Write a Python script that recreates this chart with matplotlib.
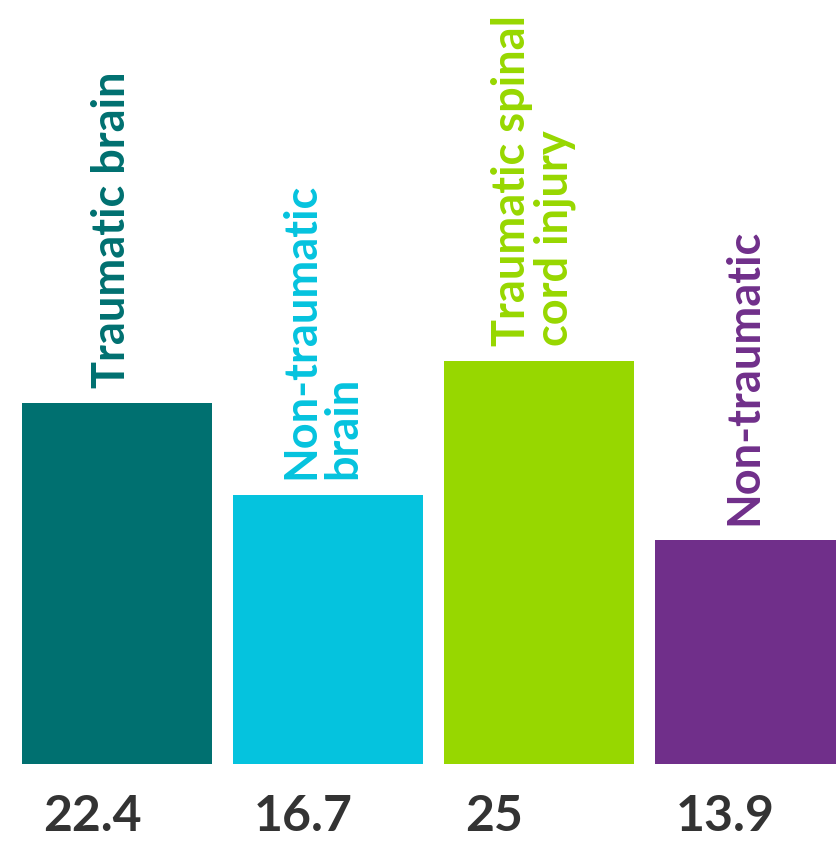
import matplotlib
matplotlib.use("Agg")
import matplotlib.pyplot as plt
import numpy as np

# Chart data
categories = ["Traumatic brain", "Non-traumatic\nbrain",
              "Traumatic spinal\ncord injury", "Non-traumatic"]
values = [22.4, 16.7, 25, 13.9]
value_labels = ["22.4", "16.7", "25", "13.9"]
colors = ["#007070", "#05C3DE", "#97D700", "#702F8A"]

plt.rcParams['font.family'] = ['Lato', 'DejaVu Sans']

fig = plt.figure(figsize=(8.36, 8.42), dpi=100)
ax = fig.add_axes([0, 0, 1, 1])

x = np.arange(len(values))
width = 0.9
ax.bar(x, values, width=width, color=colors)

# Category labels, rotated above each bar
for xi, v, cat, c in zip(x, values, categories, colors):
    ax.text(xi - 0.025, v + 0.95, cat, rotation=90, ha='center', va='bottom',
            multialignment='left', linespacing=1.0,
            fontsize=32.5, fontweight='bold', color=c)

# Values below the bars
for xi, lab in zip(x, value_labels):
    ax.text(xi - width / 2 + 0.1, -4.16, lab, ha='left', va='baseline',
            fontsize=36, fontweight='bold', color='#333333')

# Map data to pixel layout of the original
ax.set_xlim(-117 / 211, (836 - 117) / 211)
ax.set_ylim(-78 / 16.12, 764 / 16.12)
ax.axis('off')

fig.savefig("out.png", dpi=100)
